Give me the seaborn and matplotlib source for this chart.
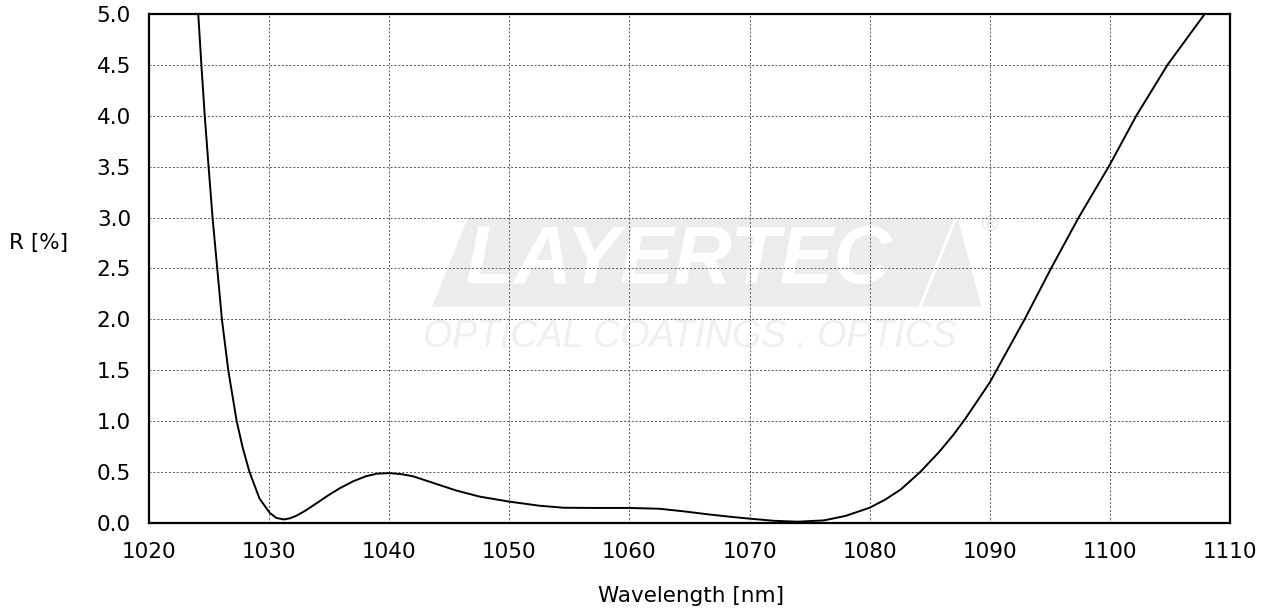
import numpy as np
import pandas as pd
import seaborn as sns
import matplotlib.pyplot as plt
from matplotlib.patches import Polygon

# --- Reflectance curve ---
wavelength = [1024.1, 1024.36, 1024.64, 1024.96, 1025.29, 1025.68, 1026.07, 1026.6,
              1027.3, 1027.8, 1028.37, 1029.2, 1030.05, 1030.6, 1031.2, 1031.7,
              1032.25, 1033.0, 1033.9, 1034.9, 1035.86, 1037.0, 1038.08, 1039.0,
              1040.0, 1041.0, 1041.95, 1043.5, 1045.56, 1047.5, 1050.0, 1052.5,
              1054.5, 1057.0, 1060.0, 1062.5, 1064.5, 1066.7, 1068.5, 1070.0,
              1072.0, 1074.0, 1076.2, 1078.0, 1080.0, 1081.3, 1082.6, 1084.2,
              1085.8, 1087.0, 1088.0, 1090.0, 1092.9, 1095.1, 1097.4, 1100.0,
              1102.2, 1104.8, 1107.9]
reflectance = [5.0, 4.5, 4.0, 3.5, 3.0, 2.5, 2.0, 1.5,
               1.0, 0.74, 0.5, 0.24, 0.10, 0.05, 0.035, 0.045,
               0.07, 0.12, 0.19, 0.27, 0.34, 0.41, 0.46, 0.485,
               0.49, 0.48, 0.46, 0.40, 0.32, 0.26, 0.21, 0.17,
               0.15, 0.148, 0.148, 0.14, 0.115, 0.083, 0.06, 0.043,
               0.022, 0.013, 0.026, 0.07, 0.15, 0.23, 0.33, 0.5,
               0.70, 0.87, 1.03, 1.38, 2.0, 2.5, 3.0, 3.52,
               4.0, 4.5, 5.0]

x_ticks = list(range(1020, 1111, 10))
y_ticks = [0.0, 0.5, 1.0, 1.5, 2.0, 2.5, 3.0, 3.5, 4.0, 4.5, 5.0]

df = pd.DataFrame({"Wavelength": wavelength, "R": reflectance})

sns.set_style("white")
plt.rcParams["font.family"] = ["DejaVu Sans"]
plt.rcParams["text.color"] = "black"

fig = plt.figure(figsize=(12.78, 6.13), dpi=100)
ax = fig.add_axes([0.1166, 0.1468, 0.8458, 0.8304])

# --- Watermark logo ---
logo_grey = "#ececec"
ax.add_patch(Polygon([[0.262, 0.425], [0.295, 0.60], [0.745, 0.60], [0.712, 0.425]],
                     closed=True, transform=ax.transAxes, facecolor=logo_grey,
                     edgecolor="none", zorder=0))
ax.add_patch(Polygon([[0.715, 0.425], [0.748, 0.60], [0.77, 0.425]],
                     closed=True, transform=ax.transAxes, facecolor=logo_grey,
                     edgecolor="none", zorder=0))
ax.text(0.49, 0.512, "LAYERTEC", transform=ax.transAxes, ha="center", va="center",
        fontsize=58, fontweight="bold", fontstyle="italic", color="white", zorder=0.5,
        family="Liberation Sans")
ax.text(0.778, 0.585, "®", transform=ax.transAxes, ha="center", va="center",
        fontsize=16, color="#e4e4e4", zorder=0.5)
ax.text(0.5, 0.365, "OPTICAL COATINGS . OPTICS", transform=ax.transAxes,
        ha="center", va="center", fontsize=27, fontstyle="italic",
        color="#efefef", zorder=0.5, family="Liberation Sans")

sns.lineplot(data=df, x="Wavelength", y="R", color="black", linewidth=1.4, ax=ax,
             zorder=3)

ax.set_xlim(1020, 1110)
ax.set_ylim(0, 5)
ax.set_xticks(x_ticks)
ax.set_yticks(y_ticks)
ax.set_yticklabels([f"{v:.1f}" for v in y_ticks])
ax.grid(True, color="#555555", linestyle=(0, (2, 2)), linewidth=0.7)
ax.set_axisbelow(True)
for s in ax.spines.values():
    s.set_color("black")
    s.set_linewidth(1.6)
    s.set_visible(True)
ax.tick_params(axis="both", direction="out", length=8, width=1.6, labelsize=15.5,
               colors="black", labelcolor="black")
ax.tick_params(axis="x", pad=6)
ax.tick_params(axis="y", pad=5)
ax.set_xlabel("")
ax.set_ylabel("")
fig.text(0.541, 0.028, "Wavelength [nm]", ha="center", va="center", fontsize=15.5,
         color="black")
fig.text(0.007, 0.604, "R [%]", ha="left", va="center", fontsize=15.5, color="black")

fig.savefig("out.png", dpi=100)
